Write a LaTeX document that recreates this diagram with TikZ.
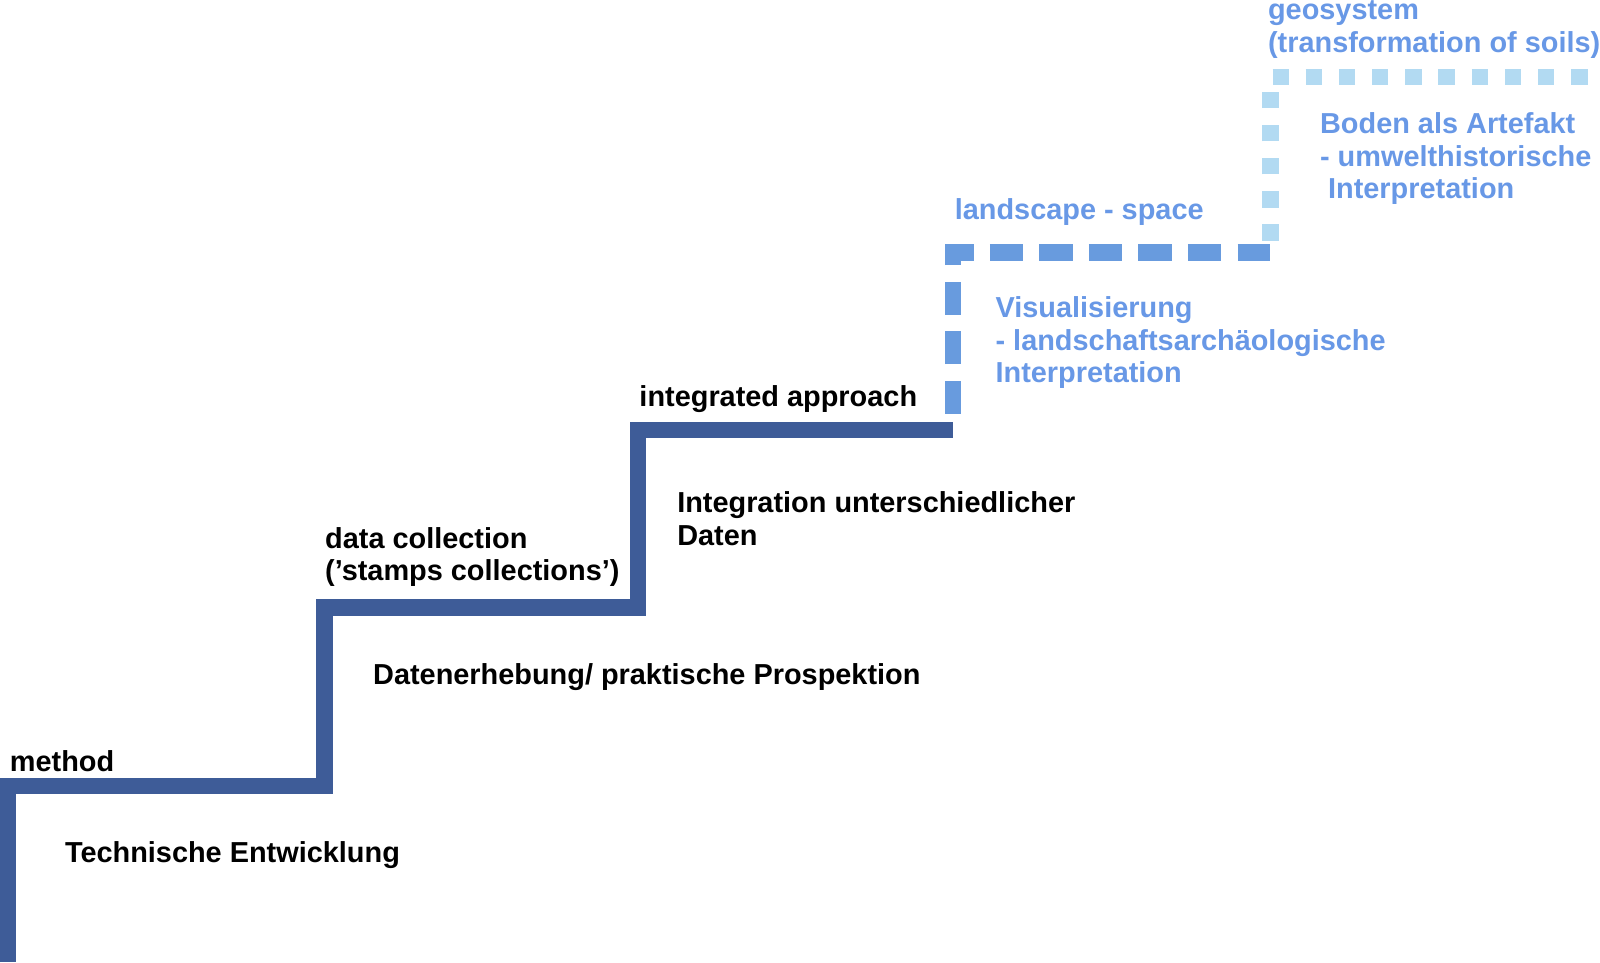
\documentclass[tikz,border=0pt]{standalone}
\usepackage{fontspec}
\setmainfont{Liberation Sans}
\usepackage{tikz}
\usetikzlibrary{positioning}

\definecolor{stepdark}{RGB}{62,92,152}
\definecolor{stepmid}{RGB}{104,155,222}
\definecolor{steplight}{RGB}{178,218,242}
\definecolor{textmid}{RGB}{104,152,230}

\begin{document}
\begin{tikzpicture}[x=0.01cm, y=-0.01cm]
  \tikzstyle{every node} = [inner sep = 0,
                            anchor = north west,
                            align = left,
                            font = \bfseries\fontsize{8.05pt}{9.1pt}\selectfont]
\tikzset{StairStyle/.style={line width = 0.16cm, line join = miter, line cap = butt}}
\tikzset{StairSolid/.style={StairStyle, color = stepdark}}
\tikzset{StairDash/.style={StairStyle, color = stepmid,
                           dash pattern = on 0.325cm off 0.16cm, dash phase = 0.325cm}}
\tikzset{StairDot/.style={StairStyle, color = steplight,
                          dash pattern = on 0.16cm off 0.165cm, dash phase = 0.21cm}}
\useasboundingbox (0,0) rectangle (1568,943);

% corners of the steps
\coordinate (S0) at (8,943);
\coordinate (S1) at (8,770);
\coordinate (S2) at (318,770);
\coordinate (S3) at (318,595.5);
\coordinate (S4) at (625,595.5);
\coordinate (S5) at (625,421.5);
\coordinate (S6) at (934,421.5);
\coordinate (S7) at (934,247.5);
\coordinate (S8) at (1245,247.5);
\coordinate (S9) at (1245,75.5);
\coordinate (S10) at (1560,75.5);

\draw[StairSolid] (S0) -- (S1) -- (S2) -- (S3) -- (S4) -- (S5) -- (S6);
\draw[StairDash] (S6) -- (S7) -- (S8);
\draw[StairDot] (S8) -- (S9) -- (S10);

% step names
\node (H1) at (9,735) {method};
\node (H2) at (318,516) {data collection\\('stamps collections')};
\node (H3) at (626,377) {integrated approach};
\node[textmid] (H4) at (935,194) {landscape - space};
\node[textmid] (H5) at (1242,0) {geosystem\\(transformation of soils)};

% what happens on each step
\node (D1) at (63,824) {Technische Entwicklung};
\node (D2) at (365,650) {Datenerhebung/ praktische Prospektion};
\node (D3) at (663,481) {Integration unterschiedlicher\\Daten};
\node[textmid] (D4) at (975,290) {Visualisierung\\- landschaftsarchäologische\\Interpretation};
\node[textmid] (D5) at (1293,109.5) {Boden als Artefakt\\- umwelthistorische\\\ Interpretation};

\end{tikzpicture}
\end{document}
